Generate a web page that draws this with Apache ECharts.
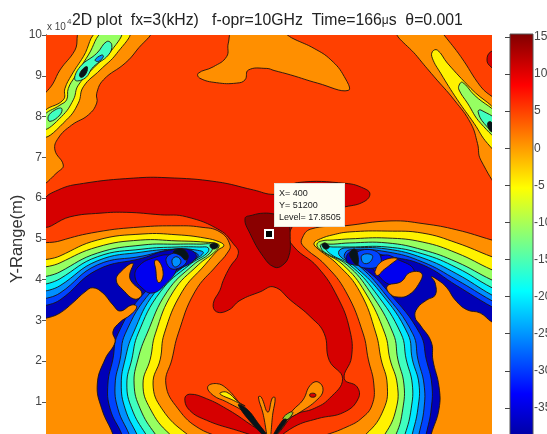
<!DOCTYPE html>
<html><head><meta charset="utf-8">
<style>html,body{margin:0;padding:0;background:#fff;overflow:hidden}#c{width:547px;height:434px}</style>
<script src="https://cdn.jsdelivr.net/npm/echarts@6/dist/echarts.min.js"></script>
</head><body><div id="c"></div>
<script>
// Axis data: x range (m), y range (x 10^4 m), colour bar (level)
const xTickStep = 80, xRange = [0, 800], yRange = [0, 10], levelRange = [-40, 15], levelTop = 15.4;
const tipX = 400, tipY = 51200, tipLevel = 17.8505;
const plotTitle = '2D plot  fx=3(kHz)   f-opr=10GHz  Time=166{m|\u03bc}s  \u03b8=0.001';
const jetStops = ['#800000','#ff0000','#ffff00','#00ffff','#0000ff','#00008f'];
const jetOffsets = [0, 0.125, 0.375, 0.625, 0.875, 1];

// Contours: [x, y(x10^4)]
const frame = [[-40,-2],[840,-2],[840,12],[-40,12]];
const redBand = [[-5,5.91],[22,6.2],[67,6.36],[157,6.49],[217,6.5],[306,6.4],[372,6.2],[409,6.09],[430,6.2],[451,6.38],[538,6.36],[570,6.24],[581,6.1],[570,5.91],[538,5.79],[469,5.63],[436,5.13],[445,4.8],[487,4.31],[523,3.57],[545,2.76],[548,2.1],[535,1.57],[558,1.37],[560,1.08],[535,.75],[487,.59],[445,.39],[400,-.05],[421,.3],[445,.67],[481,.84],[508,1.08],[532,1.57],[508,2.02],[499,2.68],[475,3.08],[439,3.49],[409,3.82],[384,3.7],[348,3.49],[327,3.25],[306,3.21],[300,3.41],[312,3.74],[318,3.98],[330,4.31],[345,4.64],[336,4.88],[312,5.21],[252,5.54],[205,5.59],[145,5.65],[97,5.63],[43,5.54],[-5,5.3]];
const darkCore = [[357,5.5],[370,5.58],[390,5.63],[409,5.61],[430,5.55],[436,5.37],[438,5.05],[436,4.6],[424,4.35],[409,4.31],[390,4.56],[366,5.13]];
const topOrange = [[336,10.1],[327,9.8],[324,9.47],[300,9.22],[273,9.06],[276,8.94],[306,8.83],[342,8.82],[357,8.9],[363,9.14],[396,9.18],[409,9.13],[439,9.02],[487,8.82],[542,8.64],[535,8.98],[511,9.39],[481,9.67],[445,9.9],[415,10.1]];

const tlOrange = [[64,10.1],[52,9.63],[25,9.14],[13,8.82],[-8,8.35],[-8,6.38],[22,6.65],[31,6.81],[16,7.18],[22,7.47],[46,7.79],[76,8.04],[91,8.33],[91,8.57],[103,8.9],[142,9.31],[163,9.63],[186,10.1]];
const tlYellow = [[-5,8.08],[31,8.41],[34,8.69],[46,9.02],[67,9.47],[94,10.1],[150,10.1],[127,9.55],[97,9.14],[67,8.73],[58,8.33],[37,7.92],[-5,7.49]];
const tlGreen = [[-5,8.0],[25,8.28],[37,8.41],[40,8.69],[52,8.98],[76,9.51],[103,10.1],[136,10.1],[118,9.63],[91,9.27],[58,8.77],[49,8.41],[28,8.0],[-5,7.67]];
const tlTeal = [[52,8.9],[61,9.22],[91,9.55],[109,9.84],[118,9.76],[112,9.51],[85,9.22],[70,8.94]];
const tlLoop = [[4,8.0],[16,8.16],[28,8.2],[25,8.04],[7,7.88]];
const tlAzure = [[88,9.39],[100,9.51],[103,9.47],[94,9.35]];
const tlBlack = [[60,9.02],[67,9.18],[74,9.22],[72,9.06],[64,8.96]];

const trOrange = [[630,10.1],[666,9.47],[696,8.98],[732,8.41],[762,7.83],[774,7.34],[780,6.93],[815,6.3],[815,8.2],[780,8.73],[744,9.47],[714,10],[708,10.1]];
const trYellow = [[693,9.59],[702,9.63],[720,9.31],[762,8.69],[815,7.95],[815,7.1],[792,7.34],[768,7.83],[738,8.41],[708,9.06],[693,9.43]];
const trGreen = [[741,8.77],[747,8.84],[768,8.53],[815,7.95],[815,7.45],[780,7.83],[756,8.33],[741,8.65]];
const trTeal = [[775,8.12],[780,8.16],[815,7.82],[815,7.5],[786,7.83]];
const trBlack = [[792,7.83],[798,7.87],[804,7.71],[798,7.63]];
const trRed = [[791,9.39],[798,9.59],[815,9.59],[815,9.1],[798,9.22]];

// Left arch, outer to inner
const lOrange = [[-30,4.68],[25,4.95],[92,5.17],[169,5.29],[235,5.32],[276,5.29],[312,5.17],[330,4.85],[325,4.65],[307,4.36],[267,3.7],[237,2.67],[226,2.05],[215,1.44],[237,.83],[276,.34],[348,-.1],[-30,-1]];
const lYellow = [[-30,4.22],[25,4.58],[92,4.97],[174,5.12],[235,5.1],[285,5.02],[312,4.92],[319,4.83],[309,4.73],[285,4.36],[244,3.7],[212,2.67],[205,2.05],[192,1.44],[208,.83],[253,.21],[303,-.18],[-30,-1]];
const lGreen = [[-30,4.02],[25,4.41],[92,4.8],[169,4.97],[235,4.95],[285,4.92],[309,4.87],[310,4.8],[300,4.65],[273,4.36],[228,3.7],[196,2.67],[187,2.05],[174,1.44],[187,.83],[222,.21],[267,-.18],[-30,-1]];
const lTeal = [[-30,3.77],[25,4.19],[92,4.65],[174,4.85],[235,4.87],[276,4.87],[298,4.85],[294,4.65],[264,4.36],[217,3.7],[181,2.67],[165,2.05],[158,1.44],[169,.83],[196,.21],[222,-.18],[-30,-1]];
const lCyan = [[-30,3.57],[25,4.02],[92,4.56],[174,4.75],[235,4.8],[276,4.8],[291,4.78],[289,4.65],[257,4.36],[205,3.7],[165,2.67],[154,2.05],[145,1.44],[154,.83],[179,.21],[201,-.18],[-30,-1]];
const lAzure = [[-30,3.42],[25,3.85],[92,4.46],[174,4.68],[235,4.75],[267,4.73],[282,4.65],[251,4.36],[196,3.7],[156,2.67],[142,2.05],[135,1.44],[142,.83],[163,.21],[178,-.18],[-30,-1]];
const lBlue = [[-30,3.25],[25,3.67],[92,4.36],[174,4.58],[222,4.73],[249,4.73],[273,4.58],[240,4.29],[188,3.7],[142,2.67],[133,2.05],[124,1.44],[129,.83],[149,.21],[160,-.18],[-30,-1]];
const lNavy = [[-30,3.09],[25,3.5],[92,4.24],[174,4.53],[213,4.7],[258,4.73],[269,4.53],[231,4.19],[178,3.7],[129,2.67],[120,2.05],[111,1.44],[115,.83],[136,.21],[147,-.18],[-30,-1]];
const lBright = [[165,4.31],[192,4.53],[226,4.58],[235,4.29],[213,3.87],[190,3.67],[172,3.8],[160,4.04]];
const lPocket = [[217,4.56],[244,4.65],[253,4.48],[240,4.29],[222,4.29]];
const lPocketAzure = [[226,4.48],[235,4.56],[242,4.43],[231,4.31]];
const lBlackBlob = [[228,4.68],[244,4.75],[255,4.6],[251,4.48],[240,4.6]];
const lTipBlack = [[294,4.83],[301,4.9],[309,4.83],[301,4.75]];
const lStreakA = [[156,4.4],[150,4.11],[154,3.94],[172,3.67],[160,3.52],[138,3.75],[126,3.99],[136,4.22]];
const lStreakB = [[195,4.46],[202,4.46],[210,4.19],[206,3.95],[200,3.95],[197,4.24]];
const lInner = [[-30,2.76],[25,3.18],[48,3.43],[70,3.7],[84,3.8],[102,3.67],[120,3.38],[133,3.23],[154,3.38],[163,3.33],[151,3.13],[133,2.96],[120,2.72],[124,2.47],[106,2.05],[92,1.44],[100,.83],[120,.21],[129,-.18],[-30,-1]];

// Right arch, outer to inner
const rOrange = [[830,4.85],[800,4.97],[737,5.22],[678,5.37],[619,5.44],[536,5.32],[475,5.24],[459,5.0],[461,4.83],[501,4.36],[538,3.7],[569,2.67],[578,2.05],[588,1.44],[585,.93],[567,.61],[540,.39],[495,.16],[440,-.06],[830,-1]];
const rYellow = [[830,4.42],[800,4.56],[737,4.9],[676,5.14],[612,5.19],[545,5.17],[515,5.1],[492,5.0],[481,4.9],[484,4.8],[524,4.36],[563,3.7],[592,2.67],[601,2.05],[612,1.44],[606,.83],[574,.21],[536,-.06],[830,-1]];
const rGreen = [[830,4.08],[800,4.24],[737,4.65],[676,4.92],[612,5.02],[545,5.0],[515,4.97],[495,4.95],[486,4.87],[492,4.73],[533,4.36],[572,3.7],[608,2.67],[617,2.05],[630,1.44],[628,.83],[608,.21],[581,-.18],[830,-1]];
const rTeal = [[830,3.83],[800,3.99],[737,4.43],[676,4.73],[612,4.9],[545,4.9],[515,4.87],[495,4.87],[492,4.83],[499,4.68],[540,4.36],[581,3.7],[623,2.67],[631,2.05],[642,1.44],[640,.83],[628,.21],[608,-.18],[830,-1]];
const rCyan = [[830,3.63],[800,3.8],[737,4.29],[676,4.63],[612,4.8],[545,4.8],[515,4.8],[501,4.8],[510,4.63],[545,4.36],[590,3.7],[637,2.67],[646,2.05],[657,1.44],[655,.83],[644,.21],[631,-.18],[830,-1]];
const rAzure = [[830,3.43],[800,3.62],[737,4.14],[676,4.53],[612,4.75],[545,4.78],[527,4.73],[527,4.58],[551,4.36],[599,3.7],[649,2.67],[657,2.05],[669,1.44],[667,.83],[657,.21],[649,-.18],[830,-1]];
const rBlue = [[830,3.28],[800,3.48],[737,3.99],[676,4.43],[612,4.68],[545,4.73],[535,4.6],[540,4.48],[560,4.36],[605,3.7],[658,2.67],[667,2.05],[678,1.44],[678,.83],[669,.21],[662,-.18],[830,-1]];
const rNavy = [[830,3.13],[800,3.33],[737,3.85],[676,4.36],[612,4.58],[572,4.68],[545,4.68],[540,4.43],[569,4.29],[614,3.7],[671,2.67],[682,2.05],[692,1.44],[691,.83],[682,.21],[675,-.18],[830,-1]];
const rBright = [[585,4.38],[606,4.6],[630,4.5],[660,4.24],[648,3.94],[619,3.87],[594,4.14]];
const rPocket = [[558,4.68],[594,4.68],[599,4.36],[569,4.29],[558,4.43]];
const rPocketAzure = [[567,4.6],[585,4.6],[581,4.43],[569,4.41]];
const rBlackBlob = [[545,4.65],[554,4.75],[560,4.55],[558,4.36],[549,4.48]];
const rTipBlack = [[495,4.85],[501,4.9],[508,4.8],[501,4.75]];
const rStreakA = [[590,4.2],[604,4.46],[630,4.52],[617,4.36],[604,4.22],[595,4.1]];
const rStreakB = [[612,3.84],[637,3.95],[652,4.17],[674,4.15],[668,3.88],[650,3.62],[633,3.57],[618,3.64]];
const rInner = [[830,2.78],[800,2.96],[779,3.18],[755,3.26],[734,3.5],[719,3.8],[703,3.99],[691,4.07],[698,3.92],[698,3.62],[683,3.5],[666,3.3],[662,3.08],[671,2.89],[691,2.47],[694,2.03],[705,1.37],[705,.83],[691,.21],[683,-.18],[830,-1]];

// Bottom-centre lobes
const leftLobe = [[249,1.08],[258,1.19],[288,1.08],[324,.83],[360,.51],[400,.1],[336,.33],[288,.55],[258,.79]];
const leftBlob = [[290,1.37],[306,1.45],[324,1.33],[348,.96],[390,.3],[360,.71],[324,1.0],[300,1.16]];
const leftBlobYellow = [[312,1.2],[324,1.24],[345,1.0],[357,.9],[336,1.04]];
const leftBlack = [[345,.92],[360,.83],[381,.47],[400,.1],[378,.34]];
const centreV = [[381,1.12],[386,1.12],[398,.75],[406,1.1],[411,1.1],[407,.73],[400,.05],[389,.73]];
const rightBlob = [[443,.8],[461,1.05],[474,1.41],[488,1.49],[497,1.29],[486,1.05],[456,.75],[432,.56],[420,.39]];
const rightDot = [[474,1.2],[483,1.2],[483,1.13],[474,1.13]];
const rightGreen = [[425,.6],[438,.75],[443,.73],[432,.56]];
const rightBlack = [[405,.1],[425,.56],[432,.56],[420,.31]];

const colors = {
  ember:'#ff4000', red:'#d60000', dark:'#8a0000', orange:'#ff8f00', yellow:'#fff200',
  green:'#96ff62', teal:'#40ffbf', cyan:'#00e8ff', azure:'#0090ff', blue:'#0044ff',
  navy:'#0000b8', bright:'#0000f0', black:'#06141a', olive:'#98d030'
};
const layers = [
  [frame,'ember',0],[redBand,'red'],[darkCore,'dark'],[topOrange,'orange'],
  [tlOrange,'orange'],[tlYellow,'yellow'],[tlGreen,'green'],[tlTeal,'teal'],[tlLoop,'teal'],[tlAzure,'azure'],[tlBlack,'black'],
  [trRed,'red'],[trOrange,'orange'],[trYellow,'yellow'],[trGreen,'green'],[trTeal,'teal'],[trBlack,'black'],
  [lOrange,'orange'],[lYellow,'yellow'],[lGreen,'green'],[lTeal,'teal'],[lCyan,'cyan'],[lAzure,'azure'],[lBlue,'blue'],[lNavy,'navy'],
  [lBright,'bright'],[lPocket,'blue'],[lPocketAzure,'azure'],[lBlackBlob,'black'],[lTipBlack,'black'],[lStreakA,'orange'],[lStreakB,'orange'],[lInner,'orange'],
  [rOrange,'orange'],[rYellow,'yellow'],[rGreen,'green'],[rTeal,'teal'],[rCyan,'cyan'],[rAzure,'azure'],[rBlue,'blue'],[rNavy,'navy'],
  [rBright,'bright'],[rPocket,'blue'],[rPocketAzure,'azure'],[rBlackBlob,'black'],[rTipBlack,'black'],[rStreakA,'orange'],[rStreakB,'orange'],[rInner,'orange'],
  [leftLobe,'red'],[leftBlob,'orange'],[leftBlobYellow,'yellow'],[leftBlack,'black'],[centreV,'orange'],
  [rightBlob,'orange'],[rightDot,'red'],[rightGreen,'olive'],[rightBlack,'black']
];

const font = '"Liberation Sans", Arial, sans-serif';
const chart = echarts.init(document.getElementById('c'), null, {renderer:'canvas'});
const axisStyle = {lineStyle:{color:'#555',width:1}};
const tick = {show:true, inside:true, length:4, lineStyle:{color:'#555',width:1}};
const jet = new echarts.graphic.LinearGradient(0,0,0,1, jetStops.map((c,i)=>({offset:jetOffsets[i],color:c})));

chart.setOption({
  animation:false,
  backgroundColor:'#fff',
  title:[
    {text:plotTitle,left:72,top:13,padding:0,textStyle:{fontFamily:font,fontSize:15.8,fontWeight:'normal',color:'#222',rich:{m:{fontFamily:font,fontSize:12,color:'#222'}}}},
    {text:'x 10',left:47,top:22,padding:0,textStyle:{fontFamily:font,fontSize:10,fontWeight:'normal',color:'#444'}},
    {text:'4',left:67,top:18,padding:0,textStyle:{fontFamily:font,fontSize:8,fontWeight:'normal',color:'#444'}}
  ],
  grid:[
    {left:46,top:35,width:446,height:407.7,show:false,outerBoundsMode:'none'},
    {left:510,top:37,width:23,height:408,show:false,outerBoundsMode:'none'}
  ],
  xAxis:[
    {gridIndex:0,type:'value',min:xRange[0],max:xRange[1],interval:xTickStep,axisLine:{show:true,...axisStyle},axisTick:tick,axisLabel:{show:false},splitLine:{show:false}},
    {gridIndex:0,type:'value',position:'top',min:xRange[0],max:xRange[1],interval:xTickStep,axisLine:{show:true,...axisStyle},axisTick:tick,axisLabel:{show:false},splitLine:{show:false}},
    {gridIndex:1,type:'value',min:0,max:1,show:false}
  ],
  yAxis:[
    {gridIndex:0,type:'value',min:yRange[0],max:yRange[1],interval:1,name:'Y-Range(m)',nameLocation:'middle',nameGap:20,nameRotate:90,nameMoveOverlap:false,
     nameTextStyle:{fontFamily:font,fontSize:16.5,color:'#333'},axisLine:{show:true,...axisStyle},axisTick:tick,
     axisLabel:{fontFamily:font,fontSize:12,color:'#444',margin:4,formatter:v=>v===0?'':String(v)},splitLine:{show:false}},
    {gridIndex:0,type:'value',position:'right',min:yRange[0],max:yRange[1],interval:1,axisLine:{show:true,...axisStyle},axisTick:tick,axisLabel:{show:false},splitLine:{show:false}},
    {gridIndex:1,type:'value',position:'right',min:levelRange[0],max:levelRange[1],interval:5,axisLine:{show:false},
     axisTick:{show:true,inside:true,length:5,lineStyle:{color:'#444',width:1}},
     axisLabel:{fontFamily:font,fontSize:12,color:'#444',margin:1},splitLine:{show:false},z:5}
  ],
  series:[
    {type:'custom',xAxisIndex:0,yAxisIndex:0,clip:true,silent:true,z:1,
     data:layers.map(l=>l[0][0]),
     renderItem:(p,api)=>{
       const l = layers[p.dataIndex];
       return {type:'polygon',
         shape:{points:l[0].map(q=>api.coord(q)),smooth:l[2]===0?0:0.45},
         style:{fill:colors[l[1]],stroke:l[2]===0?null:'#1c1410',lineWidth:0.9}};
     }},
    {type:'custom',xAxisIndex:2,yAxisIndex:2,clip:false,silent:true,z:2,
     data:[[0,levelTop,1,levelRange[0]]],
     renderItem:(p,api)=>{
       const a = api.coord([api.value(0),api.value(1)]), b = api.coord([api.value(2),api.value(3)]);
       return {type:'rect',shape:{x:a[0],y:a[1],width:b[0]-a[0],height:b[1]-a[1]},style:{fill:jet,stroke:'#555',lineWidth:1}};
     }},
    {type:'scatter',xAxisIndex:0,yAxisIndex:0,z:10,silent:true,symbol:'rect',symbolSize:8,
     data:[[tipX,tipY/10000]],
     itemStyle:{color:'#000',borderColor:'#fff',borderWidth:2,opacity:1},
     label:{show:true,opacity:1,position:[11,-45],align:'left',verticalAlign:'top',
       formatter:'X= '+tipX+'\nY= '+tipY+'\nLevel= '+tipLevel,
       fontFamily:font,fontSize:9,lineHeight:12,color:'#222',
       backgroundColor:'#fffef2',borderColor:'#e4e4dc',borderWidth:1,
       padding:[4,3,2,4],width:62}}
  ]
});
</script></body></html>
